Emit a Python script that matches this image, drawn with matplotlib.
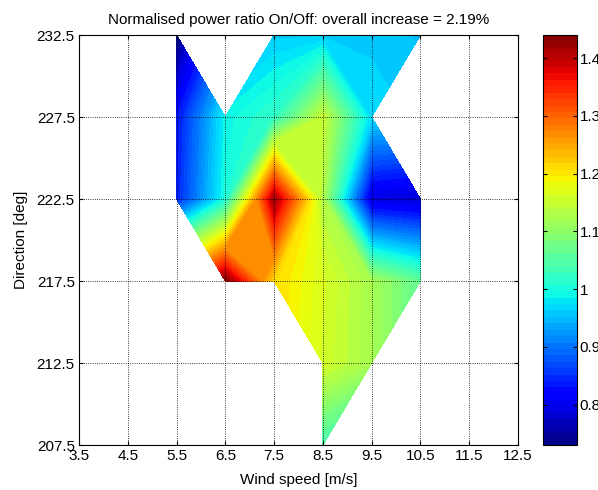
import numpy as np
import matplotlib
matplotlib.use('Agg')
import matplotlib.pyplot as plt

plt.rcParams['font.family'] = ['Liberation Sans', 'DejaVu Sans']
plt.rcParams['font.size'] = 11

speed = [5.5, 6.5, 7.5, 8.5, 9.5, 10.5]
direction = [207.5, 212.5, 217.5, 222.5, 227.5, 232.5]
nan = np.nan
# rows follow direction (bottom to top), columns follow speed
ratio = [
    [nan, nan, nan, 1.04, nan, nan],
    [nan, nan, nan, 1.16, 1.12, nan],
    [nan, 1.44, 1.21, 1.165, 1.12, 1.06],
    [0.84, 1.00, 1.42, 1.13, 0.79, 0.78],
    [0.83, 0.99, 1.02, 1.15, 0.97, nan],
    [0.73, nan, 0.96, 0.96, 0.96, 0.95],
]
title = 'Normalised power ratio On/Off: overall increase = 2.19%'

Z = np.ma.masked_invalid(np.array(ratio))
X, Y = np.meshgrid(speed, direction)

fig = plt.figure(figsize=(5.98, 4.90), dpi=100)
ax = fig.add_axes([0.1321, 0.0918, 0.7341, 0.8367])
levels = np.linspace(Z.min(), Z.max(), 65)
cs = ax.contourf(X, Y, Z, levels=levels, cmap='jet', corner_mask=True, zorder=1)

xt = np.arange(3.5, 12.6, 1.0)
yt = np.arange(207.5, 232.6, 5.0)
ax.set_xlim(3.5, 12.5)
ax.set_ylim(207.5, 232.5)
ax.set_xticks(xt)
ax.set_yticks(yt)
ax.set_xticklabels(['%.1f' % v for v in xt])
ax.set_yticklabels(['%.1f' % v for v in yt])
ax.grid(True, color='k', linestyle=':', linewidth=0.6, zorder=3)
ax.set_axisbelow(False)
ax.tick_params(direction='in', top=True, right=True, length=3, pad=3)
ax.set_xlabel('Wind speed [m/s]', labelpad=7)
ax.set_ylabel('Direction [deg]', labelpad=6)
ax.set_title(title, fontsize=11, pad=8)

cax = fig.add_axes([0.908, 0.0918, 0.0569, 0.8367])
cb = fig.colorbar(cs, cax=cax)
cb.set_ticks([0.8, 0.9, 1.0, 1.1, 1.2, 1.3, 1.4])
cb.set_ticklabels(['0.8', '0.9', '1', '1.1', '1.2', '1.3', '1.4'])
cax.tick_params(direction='in', left=True, right=True, length=3, pad=2)

fig.savefig('out.png', dpi=100)
